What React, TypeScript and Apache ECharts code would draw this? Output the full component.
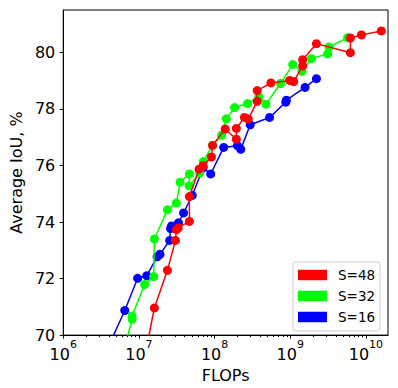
import React, { useEffect, useRef } from "react";
import * as echarts from "echarts";

const FONT = "DejaVu Sans";

const seriesNames = ["S=48", "S=32", "S=16"];
const seriesColors = ["#ff0000", "#00ff00", "#0000ff"];

// S=48 (red)
const s48Flops = [
  1.15e7, 1.6e7, 2.38e7, 3.04e7, 3.13e7, 3.3e7, 4.65e7, 4.65e7, 6.24e7, 7.06e7,
  9.08e7, 9.42e7, 1.38e8, 1.94e8, 1.94e8, 2.48e8, 2.79e8, 3.66e8, 3.66e8, 5.55e8,
  9.82e8, 1.11e9, 1.46e9, 1.46e9, 2.22e9, 6.24e9, 6.24e9, 8.73e9, 1.6e10,
];
const s48IoU = [
  69.0, 70.96, 72.29, 73.35, 73.73, 73.79, 74.02, 74.9, 75.87, 75.99,
  76.3, 76.71, 77.29, 76.93, 77.31, 77.7, 77.64, 78.27, 78.65, 78.92,
  79.01, 78.97, 79.52, 79.74, 80.31, 79.99, 80.51, 80.62, 80.76,
];

// S=32 (green)
const s32Flops = [
  5.73e6, 8.13e6, 8.13e6, 1.19e7, 1.57e7, 1.6e7, 2.38e7, 3.13e7, 3.5e7, 4.65e7,
  4.6e7, 6.37e7, 7.1e7, 9.35e7, 1.24e8, 1.43e8, 1.84e8, 2.73e8, 3.85e8, 4.78e8,
  7.45e8, 1.08e9, 1.43e9, 1.91e9, 3.13e9, 3.26e9, 5.74e9,
];
const s32IoU = [
  69.0, 70.56, 70.68, 71.79, 72.07, 73.4, 74.43, 74.67, 75.41, 75.7,
  75.28, 75.73, 76.14, 76.71, 77.07, 77.65, 78.05, 78.19, 78.43, 78.17,
  78.9, 79.57, 79.33, 79.78, 79.95, 80.19, 80.52,
];

// S=16 (blue)
const s16Flops = [
  3.13e6, 6.5e6, 9.62e6, 1.27e7, 1.74e7, 1.9e7, 2.55e7, 2.62e7, 2.7e7, 3.33e7,
  3.89e7, 5.07e7, 7.06e7, 8.89e7, 1.32e8, 2.01e8, 2.22e8, 2.96e8, 5.33e8, 8.73e8,
  8.89e8, 1.57e9, 2.22e9,
];
const s16IoU = [
  69.0, 70.87, 72.01, 72.1, 72.77, 72.86, 73.35, 73.77, 73.86, 73.97,
  74.32, 74.94, 75.92, 75.7, 76.64, 76.7, 76.57, 77.44, 77.7, 78.24,
  78.31, 78.76, 79.07,
];

const xMajorTicks = [1e6, 1e7, 1e8, 1e9, 1e10];
const xDecades = [1e6, 1e7, 1e8, 1e9];
const minorMultipliers = [2, 3, 4, 5, 6, 7, 8, 9];
const xMinorTicks = xDecades.flatMap((d) => minorMultipliers.map((m) => m * d));
const yTicks = [70, 72, 74, 76, 78, 80];

const X_MIN = 1e6;
const X_MAX = 1.96e10;
const Y_MIN = 70;
const Y_MAX = 81.5;

function zip(xs: number[], ys: number[]) {
  return xs.map((x, i) => [x, ys[i]]);
}

export default function App() {
  const ref = useRef<HTMLDivElement>(null);
  useEffect(() => {
    if (!ref.current) return;
    const chart = echarts.init(ref.current, undefined, { renderer: "svg" });
    const datasets = [zip(s48Flops, s48IoU), zip(s32Flops, s32IoU), zip(s16Flops, s16IoU)];
    const zs = [4, 3, 2];
    chart.setOption({
      animation: false,
      textStyle: { fontFamily: FONT },
      grid: {
        left: 53,
        right: 10,
        top: 10,
        bottom: 52,
        show: true,
        borderColor: "#000",
        borderWidth: 1,
        backgroundColor: "transparent",
      },
      xAxis: [
        {
          type: "log",
          logBase: 10,
          min: X_MIN,
          max: X_MAX,
          position: "bottom",
          axisLine: { show: true, lineStyle: { color: "#000", width: 1 } },
          splitLine: { show: false },
          axisTick: { show: true, length: 3.5, customValues: xMajorTicks, lineStyle: { color: "#000" } },
          axisLabel: {
            customValues: xMajorTicks,
            margin: 4,
            formatter: (v: number) => `{b|10}{s|${Math.round(Math.log10(v))}}`,
            rich: {
              b: { fontSize: 16, color: "#000", fontFamily: FONT, lineHeight: 23, verticalAlign: "bottom" },
              s: { fontSize: 11, color: "#000", fontFamily: FONT, verticalAlign: "top" },
            },
          },
          name: "FLOPs",
          nameLocation: "middle",
          nameGap: 28,
          nameTextStyle: { fontSize: 16, color: "#000", fontFamily: FONT },
        },
        {
          type: "log",
          logBase: 10,
          min: X_MIN,
          max: X_MAX,
          gridIndex: 0,
          position: "bottom",
          axisLine: { show: false },
          splitLine: { show: false },
          axisLabel: { show: false },
          axisTick: { show: true, length: 2, customValues: xMinorTicks, lineStyle: { color: "#000" } },
        },
      ],
      yAxis: {
        type: "value",
        min: Y_MIN,
        max: Y_MAX,
        interval: 2,
        axisLine: { show: true, lineStyle: { color: "#000", width: 1 } },
        splitLine: { show: false },
        axisTick: { show: true, length: 3.5, customValues: yTicks, lineStyle: { color: "#000" } },
        axisLabel: { customValues: yTicks, fontSize: 16, color: "#000", fontFamily: FONT, margin: 8 },
        name: "Average IoU, %",
        nameLocation: "middle",
        nameGap: 32,
        nameTextStyle: { fontSize: 16, color: "#000", fontFamily: FONT },
      },
      legend: {
        data: seriesNames,
        orient: "vertical",
        left: 293,
        top: 262,
        icon: "rect",
        itemWidth: 29,
        itemHeight: 10.5,
        itemGap: 5,
        padding: [5, 5, 6, 5],
        borderColor: "#cccccc",
        borderWidth: 1,
        borderRadius: 3,
        backgroundColor: "rgba(255,255,255,0.8)",
        textStyle: { fontSize: 13.5, color: "#000", fontFamily: FONT, padding: [0, 0, 0, 6], lineHeight: 16 },
      },
      series: seriesNames.map((name, i) => ({
        name,
        type: "line",
        xAxisIndex: 0,
        data: datasets[i],
        z: zs[i],
        clip: true,
        symbol: "circle",
        symbolSize: 9,
        showSymbol: true,
        showAllSymbol: true,
        color: seriesColors[i],
        lineStyle: { color: seriesColors[i], width: 1.5 },
        itemStyle: { color: seriesColors[i] },
        emphasis: { disabled: true },
      })),
    });
    return () => chart.dispose();
  }, []);
  return (
    <div
      ref={ref}
      style={{ position: "fixed", left: 0, top: 0, width: 398, height: 388, background: "#fff" }}
    />
  );
}
